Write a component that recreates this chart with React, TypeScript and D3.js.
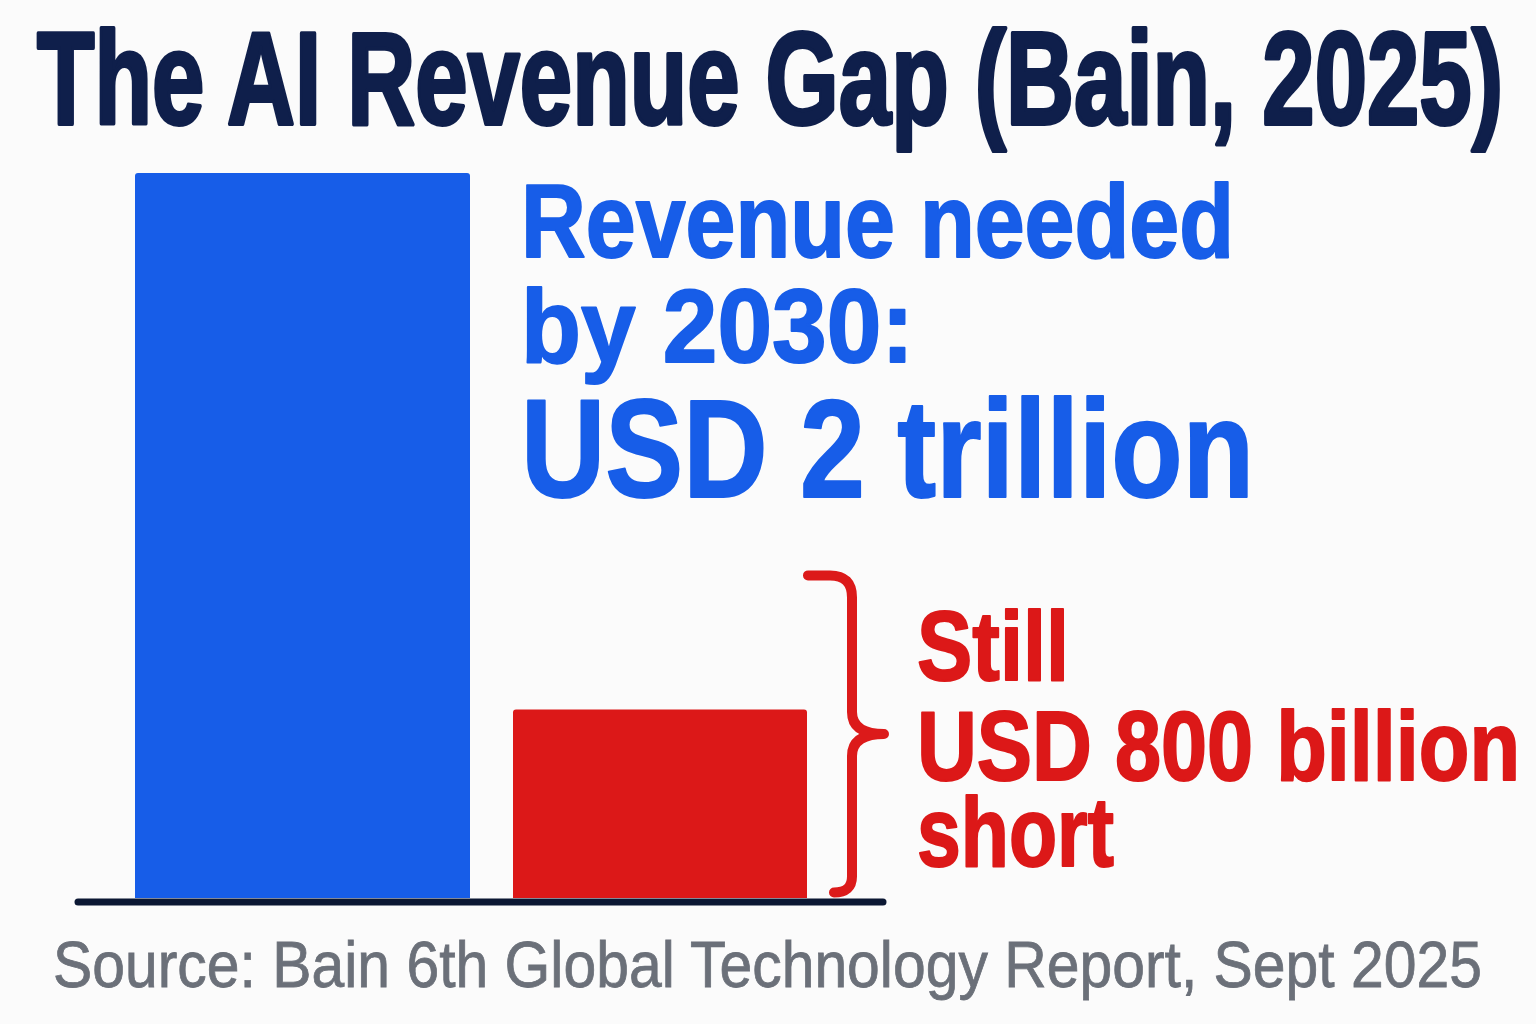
import React from "react";
import * as d3 from "d3";

const categories = ["Revenue needed by 2030", "Current trajectory"];
const valuesBillionUSD = [2000, 520];
const barColors = ["#175de8", "#dc1818"];
const gapBraceRange = [15, 890]; // annotation span, in value units
const titleText = "The AI Revenue Gap (Bain, 2025)";
const blueLabel = ["Revenue needed", "by 2030:", "USD 2 trillion"];
const redLabel = ["Still", "USD 800 billion", "short"];
const sourceText = "Source: Bain 6th Global Technology Report, Sept 2025";

const W = 1536;
const H = 1024;
const FONT = "'Liberation Sans Narrow', 'Arial Narrow', 'Liberation Sans', Arial, sans-serif";

// layout (pixels)
const baseY = 898;
const topY = 173;
const barSpans = [
  [135, 470],
  [513, 807],
];

export default function App() {
  const y = d3.scaleLinear().domain([0, 2000]).range([baseY, topY]);
  const xIdx = d3.scaleOrdinal<string, number>().domain(categories).range([0, 1]);

  const r = 3;
  const barPath = (x0: number, x1: number, yt: number, yb: number) => {
    const p = d3.path();
    p.moveTo(x0, yb);
    p.lineTo(x0, yt + r);
    p.quadraticCurveTo(x0, yt, x0 + r, yt);
    p.lineTo(x1 - r, yt);
    p.quadraticCurveTo(x1, yt, x1, yt + r);
    p.lineTo(x1, yb);
    p.closePath();
    return p.toString();
  };

  // brace
  const bTop = y(gapBraceRange[1]);
  const bBot = y(gapBraceRange[0]);
  const bMid = (bTop + bBot) / 2;
  const bx = 852;
  const rad = 22;
  const brace = d3.path();
  brace.moveTo(808, bTop);
  brace.lineTo(bx - rad, bTop);
  brace.quadraticCurveTo(bx, bTop, bx, bTop + rad);
  brace.lineTo(bx, bMid - rad);
  brace.quadraticCurveTo(bx, bMid, bx + 32, bMid);
  brace.moveTo(bx + 32, bMid);
  brace.quadraticCurveTo(bx, bMid, bx, bMid + rad);
  brace.lineTo(bx, bBot - 16);
  brace.quadraticCurveTo(bx, bBot, bx - 18, bBot);

  const blue = "#175de8";
  const red = "#dc1818";

  return (
    <svg
      width={W}
      height={H}
      viewBox={`0 0 ${W} ${H}`}
      style={{ position: "absolute", left: 0, top: 0, display: "block" }}
    >
      <rect x={0} y={0} width={W} height={H} fill="#fbfbfb" />
      <text
        x={37}
        y={124}
        fontFamily={FONT}
        fontWeight={700}
        fontSize={132}
        fill="#0f1f4b"
        stroke="#0f1f4b"
        strokeWidth={4}
        strokeLinejoin="round"
        textLength={1466}
        lengthAdjust="spacingAndGlyphs"
      >
        {titleText}
      </text>

      {categories.map((c, i) => {
        const idx = xIdx(c);
        const [x0, x1] = barSpans[idx];
        return (
          <path
            key={c}
            d={barPath(x0, x1, y(valuesBillionUSD[i]), y(0))}
            fill={barColors[i]}
          />
        );
      })}

      <line
        x1={78}
        x2={883}
        y1={y(0) + 4}
        y2={y(0) + 4}
        stroke="#0b1733"
        strokeWidth={7}
        strokeLinecap="round"
      />

      <path
        d={brace.toString()}
        fill="none"
        stroke="#dc1a1a"
        strokeWidth={10}
        strokeLinecap="round"
        strokeLinejoin="round"
      />

      {/* blue label */}
      <g fontFamily={FONT} fontWeight={700} fill={blue} stroke={blue} strokeWidth={2} strokeLinejoin="round">
        <text x={521} y={257} fontSize={103} textLength={713} lengthAdjust="spacingAndGlyphs">{blueLabel[0]}</text>
        <text x={521} y={362} fontSize={103} textLength={393} lengthAdjust="spacingAndGlyphs">{blueLabel[1]}</text>
        <text x={521} y={497} fontSize={139} textLength={733} lengthAdjust="spacingAndGlyphs">{blueLabel[2]}</text>
      </g>

      {/* red label */}
      <g fontFamily={FONT} fontWeight={700} fill={red} stroke={red} strokeWidth={2} strokeLinejoin="round">
        <text x={917} y={680} fontSize={99} textLength={152} lengthAdjust="spacingAndGlyphs">{redLabel[0]}</text>
        <text x={917} y={780} fontSize={99} textLength={603} lengthAdjust="spacingAndGlyphs">{redLabel[1]}</text>
        <text x={917} y={866} fontSize={99} textLength={197} lengthAdjust="spacingAndGlyphs">{redLabel[2]}</text>
      </g>

      <text x={53} y={987} fontFamily={FONT} fontWeight={400} fontSize={65} fill="#6b7079"
        stroke="#6b7079" strokeWidth={0.8}
        textLength={1429} lengthAdjust="spacingAndGlyphs">{sourceText}</text>
    </svg>
  );
}
